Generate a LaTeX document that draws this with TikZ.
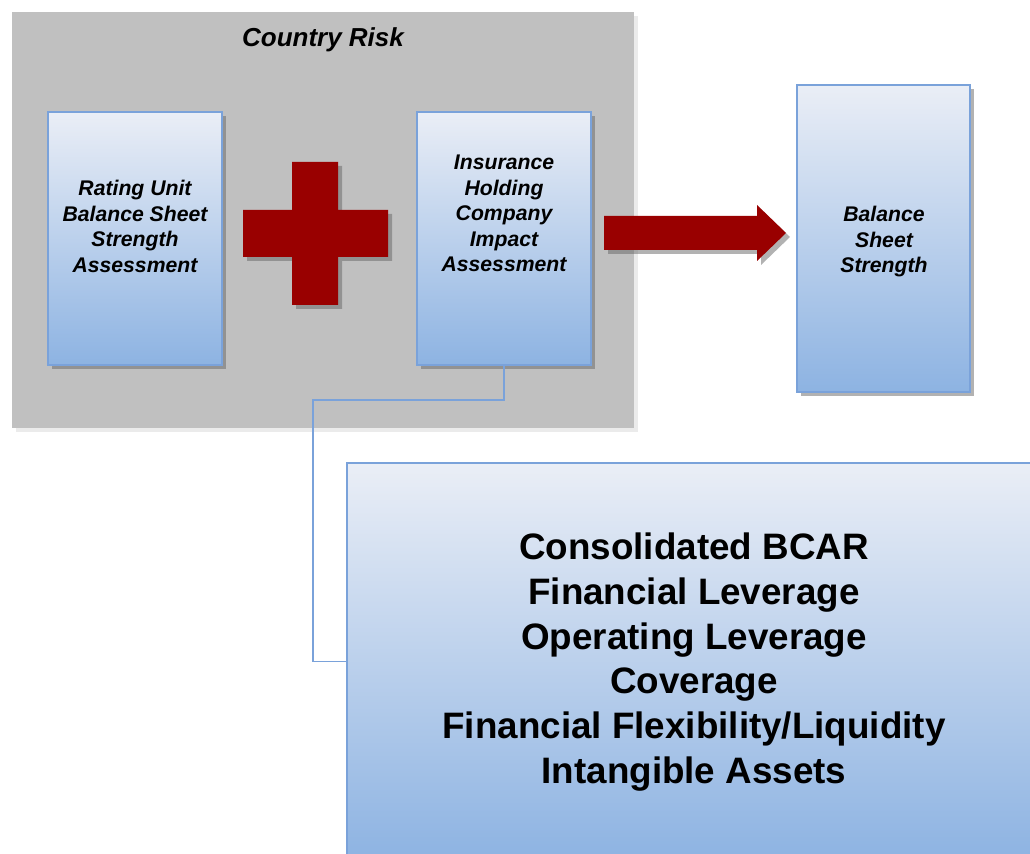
\documentclass[tikz,border=0pt]{standalone}
\usepackage{fontspec}
\setmainfont{Liberation Sans}
\usetikzlibrary{shadows}
\usetikzlibrary{positioning}
\definecolor{panelgray}{RGB}{192,192,192}
\definecolor{darkred}{RGB}{153,0,0}
\definecolor{boxline}{RGB}{122,162,218}
\definecolor{boxtop}{RGB}{234,238,246}
\definecolor{boxbottom}{RGB}{141,179,226}
\tikzset{
  box/.style={draw=boxline, line width=0.75pt, top color=boxtop, bottom color=boxbottom,
    inner sep=0pt, drop shadow={shadow xshift=2pt, shadow yshift=-2pt, fill=black!60, opacity=0.5}},
  boxtext/.style={align=center, font=\fontsize{10.6}{12.75}\selectfont\bfseries\itshape},
  bigtext/.style={align=center, font=\fontsize{18.4}{22.4}\selectfont\bfseries},
  link/.style={draw=boxline, line width=0.75pt},
  redshape/.style={fill=darkred, drop shadow={shadow xshift=2pt, shadow yshift=-2pt, fill=black!60, opacity=0.5}}
}

\begin{document}
\begin{tikzpicture}[x=0.5pt, y=-0.5pt]
  \useasboundingbox (0,0) rectangle (1030,854);
  \fill[panelgray, drop shadow={shadow xshift=2pt, shadow yshift=-2pt, fill=black!20, opacity=0.4}]
    (12,12) rectangle (634,428);
  \node[font=\fontsize{13}{15}\selectfont\bfseries\itshape] (title) at (323,40) {Country Risk};

  \node[box, minimum width=87pt, minimum height=126.5pt] (unit) at (135,238.5) {};
  \node[box, minimum width=87pt, minimum height=126.5pt] (holding) at (504,238.5) {};
  \node[box, minimum width=86.5pt, minimum height=153.5pt] (strength) at (883.5,238.5) {};
  \node[box, minimum width=346.5pt, minimum height=198.5pt] (factors) at (693.5,661.5) {};

  \coordinate (bend) at (313,400);
  \draw[link] (holding.south) -- (holding.south |- bend) -- (bend) |- (factors.west);

  \node[boxtext] (unittext) at (135,226.5) {Rating Unit\\Balance Sheet\\Strength\\Assessment};
  \node[boxtext] (holdingtext) at (504,213.5) {Insurance\\Holding\\Company\\Impact\\Assessment};
  \node[boxtext] (strengthtext) at (884,242) {Balance\\Sheet\\Strength};
  \node[bigtext] (factorstext) at (694,662) {Consolidated BCAR\\Financial Leverage\\Operating Leverage\\Coverage\\Financial Flexibility/Liquidity\\Intangible Assets};

  \fill[redshape] (292,162) -- (338,162) -- (338,210) -- (388,210) -- (388,257) -- (338,257)
    -- (338,305) -- (292,305) -- (292,257) -- (243,257) -- (243,210) -- (292,210) -- cycle;
  \fill[redshape] (604,216) -- (757,216) -- (757,205) -- (786,233) -- (757,261) -- (757,250)
    -- (604,250) -- cycle;
\end{tikzpicture}
\end{document}
